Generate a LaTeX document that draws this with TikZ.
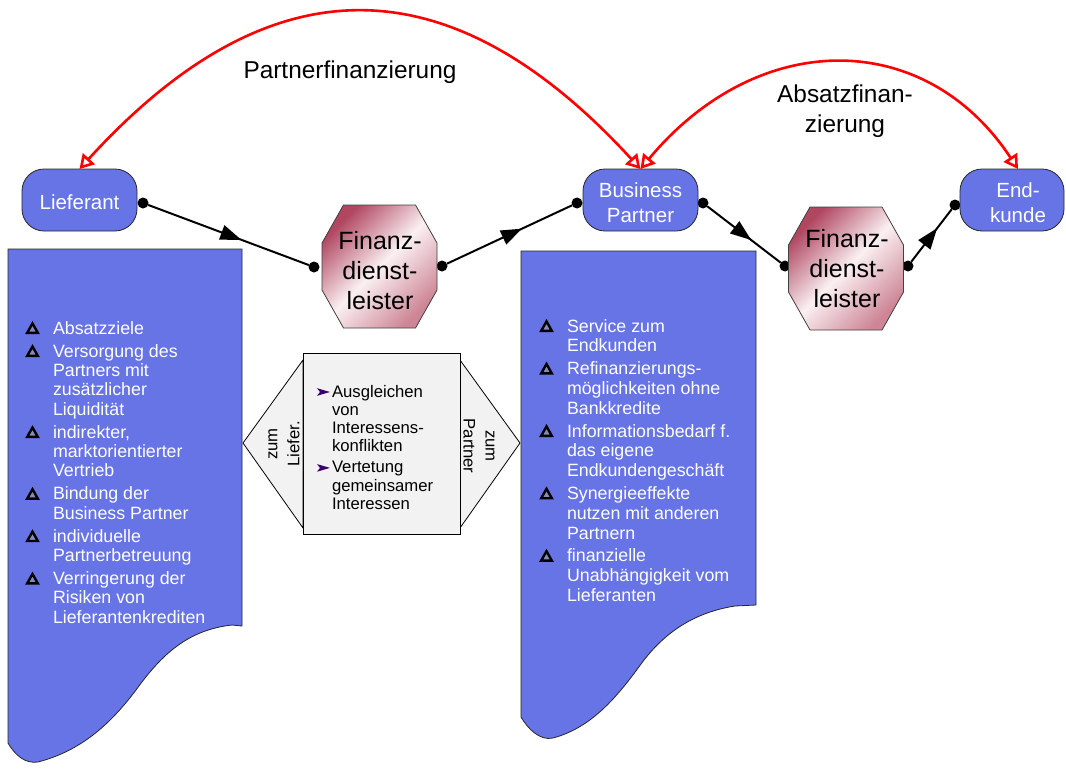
\documentclass[tikz,border=0pt]{standalone}
\usepackage{fontspec}
\setmainfont{Liberation Sans}
\usetikzlibrary{arrows.meta,decorations.markings}

\definecolor{boxblue}{RGB}{102,116,229}
\definecolor{octdark}{RGB}{176,70,96}
\definecolor{octmid}{RGB}{206,134,150}
\definecolor{octlight}{RGB}{250,240,242}
\definecolor{hexgray}{RGB}{242,242,242}
\definecolor{bulpurple}{RGB}{58,0,112}
\definecolor{arcred}{RGB}{255,0,0}

\newcommand{\fsz}[2]{\fontsize{#1}{#2}\selectfont}
% outlined triangle bullet for the blue lists
\newcommand{\tribul}{\llap{\tikz[x=1pt,y=1pt,baseline=0pt]\filldraw[black,line width=2.4pt,line join=miter,fill=black!45!boxblue!60!white](1.2,1.2)--(11.8,1.2)--(6.5,10.6)--cycle;\hspace{14pt}}}
% purple arrow bullet for the middle box
\newcommand{\arrbul}{\llap{\tikz[x=1pt,y=1pt,baseline=0pt]\fill[bulpurple](0,1.2)--(13,5)--(0,8.8)--(3,5)--cycle;\hspace{2pt}}}

\begin{document}
\begin{tikzpicture}[x=1pt,y=-1pt,
  every node/.style={inner sep=0pt,outer sep=0pt},
  bluebox/.style={draw=black!85,line width=0.8pt,fill=boxblue},
  rbox/.style={draw=black!85,line width=0.8pt,fill=boxblue,rounded corners=22pt,
    minimum width=115pt,minimum height=62pt},
  boxtext/.style={text=white,align=center,font=\fsz{20.5}{25}},
  octshape/.style={draw=black!75,line width=0.8pt,top color=octdark,bottom color=octmid,
    middle color=octlight,shading angle=45},
  octtext/.style={text=black,align=center,font=\fsz{25}{30}},
  listtext/.style={text=white,align=left,anchor=north west},
  hexfill/.style={draw=black,line width=0.8pt,fill=hexgray},
  dotn/.style={circle,fill=black,minimum size=11pt},
  conn/.style={line width=2pt,postaction={decorate},
    decoration={markings,mark=at position #1 with {\arrow{Triangle[length=21pt,width=15pt]}}}},
  arc/.style={draw=arcred,line width=2.6pt,
    {Triangle[open,length=14pt,width=16pt]}-{Triangle[open,length=14pt,width=16pt]}},
  arclabel/.style={text=black,align=center,font=\fsz{24.4}{30}}
]
\useasboundingbox (0,0) rectangle (1066,771);

% ---- blue note boxes with curled lower edge ----
\draw[bluebox] (8,249) -- (242,249) -- (242,626) -- (232,625)
  .. controls (188,630) and (162,654) .. (136,690)
  .. controls (106,730) and (76,752) .. (38,762)
  .. controls (25,764) and (15,755) .. (8,743) -- cycle;
\draw[bluebox] (521,251) -- (756,251) -- (756,605) -- (735,606)
  .. controls (697,612) and (666,630) .. (641,664)
  .. controls (615,700) and (590,728) .. (553,738)
  .. controls (540,741) and (528,729) .. (521,717) -- cycle;

\node[listtext,font=\fsz{17.8}{19.3}] (ltext) at (53,320) {%
\rule{0pt}{14pt}\tribul Absatzziele\\[3.8pt]
\tribul Versorgung des\\Partners mit\\zusätzlicher\\Liquidität\\[3.8pt]
\tribul indirekter,\\marktorientierter\\Vertrieb\\[3.8pt]
\tribul Bindung der\\Business Partner\\[3.8pt]
\tribul individuelle\\Partnerbetreuung\\[3.8pt]
\tribul Verringerung der\\Risiken von\\Lieferantenkrediten};

\node[listtext,font=\fsz{17.8}{19.8}] (rtext) at (567,318) {%
\rule{0pt}{14pt}\tribul Service zum\\Endkunden\\[3pt]
\tribul Refinanzierungs-\\möglichkeiten ohne\\Bankkredite\\[3pt]
\tribul Informationsbedarf f.\\das eigene\\Endkundengeschäft\\[3pt]
\tribul Synergieeffekte\\nutzen mit anderen\\Partnern\\[3pt]
\tribul finanzielle\\Unabhängigkeit vom\\Lieferanten};

% ---- middle hexagon ----
\draw[hexfill] (303,360) -- (243,443) -- (303,528) -- cycle;
\draw[hexfill] (460,360) -- (520,443) -- (460,528) -- cycle;
\node[hexfill,minimum width=157pt,minimum height=181pt] (mid) at (381.5,443.5) {};
\node[text=black,align=left,anchor=north west,font=\fsz{16.7}{18.3}] (midtext) at (332,384) {%
\rule{0pt}{13pt}\arrbul Ausgleichen\\von\\Interessens-\\konflikten\\[2.7pt]
\arrbul Vertetung\\gemeinsamer\\Interessen};
\node[rotate=90,align=center,font=\fsz{16.7}{22}] (zumlief) at (284,444) {zum\\Liefer.};
\node[rotate=-90,align=center,font=\fsz{16.7}{22}] (zumpart) at (479,446) {zum\\Partner};

% ---- connection points ----
\node[dotn] (d1) at (143,203) {};
\node[dotn] (d2) at (314,267) {};
\node[dotn] (d3) at (442,266) {};
\node[dotn] (d4) at (577,203) {};
\node[dotn] (d5) at (703,203) {};
\node[dotn] (d6) at (785,266) {};
\node[dotn] (d7) at (908,266) {};
\node[dotn] (d8) at (955,205) {};

\draw[conn=0.58] (d1) -- (d2);
\draw[conn=0.6] (d3) -- (d4);
\draw[conn=0.6] (d5) -- (d6);
\draw[conn=0.64] (d7) -- (d8);

% ---- financial service providers ----
\draw[octshape,shift={(379.5,266.5)}] (-57.5,-23.5) -- (-36,-61.5) -- (36,-61.5) -- (57.5,-23.5)
  -- (57.5,23.5) -- (36,61.5) -- (-36,61.5) -- (-57.5,23.5) -- cycle;
\node[octtext] (fd1) at (380,271) {Finanz-\\dienst-\\leister};
\draw[octshape,shift={(846,268.5)}] (-57.5,-23.5) -- (-36,-61.5) -- (36,-61.5) -- (57.5,-23.5)
  -- (57.5,23.5) -- (36,61.5) -- (-36,61.5) -- (-57.5,23.5) -- cycle;
\node[octtext] (fd2) at (847,269) {Finanz-\\dienst-\\leister};

% ---- actors ----
\node[rbox] (lief) at (79.5,200) {};
\node[boxtext] (lieft) at (79.5,202.5) {Lieferant};
\node[rbox] (bp) at (640.5,200) {};
\node[boxtext] (bpt) at (640.5,202.5) {Business\\Partner};
\node[rbox,minimum width=104pt] (endk) at (1012,200) {};
\node[boxtext] (endkt) at (1018,203) {End-\\kunde};

% ---- financing flows ----
\draw[arc] (lief.north) .. controls (269,-39) and (449,-40) .. (bp.north);
\draw[arc] (bp.north) .. controls (758,28) and (925,28) .. ([xshift=6pt]endk.north);
\node[arclabel] (pfin) at (350,72.5) {Partnerfinanzierung};
\node[arclabel] (afin) at (845,111.5) {Absatzfinan-\\zierung};
\end{tikzpicture}
\end{document}
